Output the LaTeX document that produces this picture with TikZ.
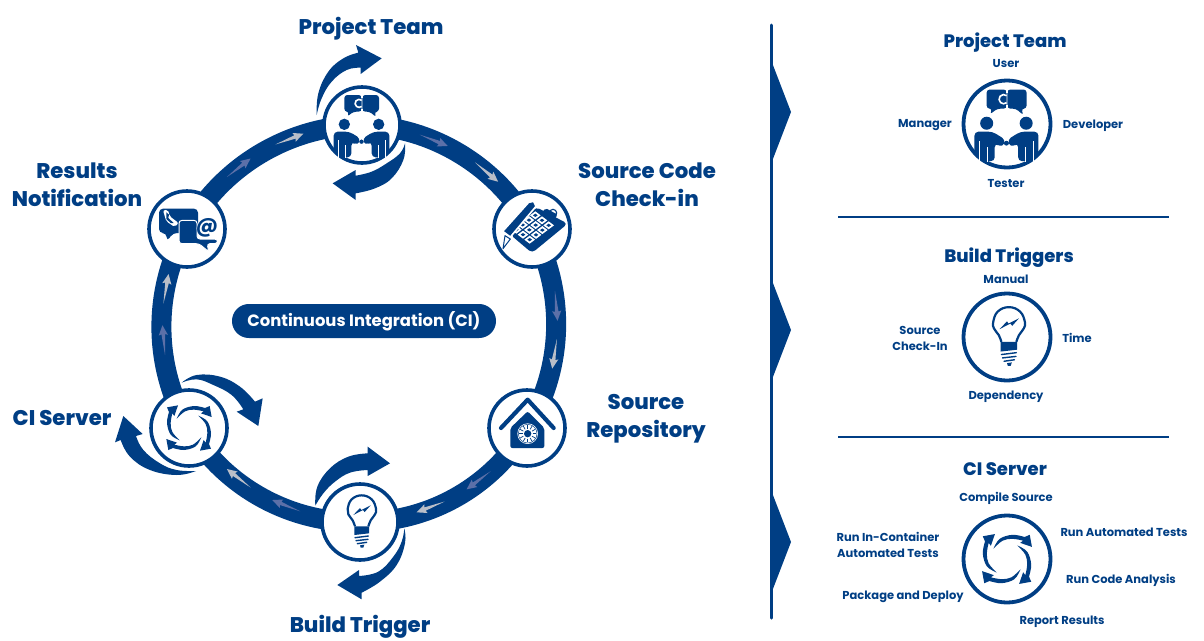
\documentclass[tikz,border=0pt]{standalone}
\usepackage{fontspec}
\setmainfont{Poppins}
\newfontfamily\heavyfont{Poppins ExtraBold}
\usetikzlibrary{backgrounds}
\definecolor{ciblue}{HTML}{003E84}
\definecolor{arrowgray}{HTML}{B9BEC8}
\definecolor{arrowmid}{HTML}{5C70A8}
\tikzset{
  x=1pt,y=-1pt,
  hub/.style={circle,draw=ciblue,fill=white,line width=3.6pt,minimum size=76pt,inner sep=0pt},
  hubbig/.style={hub,minimum size=87pt,line width=3.8pt},
  ringseg/.style={draw=ciblue,line width=20pt,bend left=30,looseness=.91},
  bigtitle/.style={text=ciblue,font=\heavyfont\fontsize{21.2}{28.5}\selectfont,align=center,inner sep=0pt},
  subtitle/.style={text=ciblue,font=\heavyfont\fontsize{18}{21}\selectfont,align=center,inner sep=0pt},
  item/.style={text=ciblue,font=\bfseries\fontsize{11.5}{15.5}\selectfont,align=center,inner sep=0pt},
  zoomed/.style={scale=1/3},
  peopleicon/.pic={
    \begin{scope}[scale=1/3]\begin{scope}[shift={(-215,-285)}]
      \fill[ciblue,rounded corners=3pt] (162,195) -- (214,195) -- (214,245) -- (190,245) -- (170,260) -- (177,245) -- (162,245) -- cycle;
      \fill[ciblue,rounded corners=3pt] (216,195) -- (266,195) -- (266,245) -- (252,245) -- (258,262) -- (238,245) -- (216,245) -- cycle;
      \draw[white,line width=1.6pt] (214,211) arc[start angle=-50,end angle=-310,radius=12];
      \draw[white,line width=1.1pt] (215,192) -- (215,204) (215,236) -- (215,250);
      \foreach \m in {0,1}{
        \begin{scope}[xscale={1-2*\m},shift={(-427*\m,0)}]
          \fill[ciblue] (162,283) circle[radius=17];
          \fill[ciblue,rounded corners=4pt] (130,372) -- (130,305) -- (177,305) -- (211,326) -- (203,346) -- (183,335) -- (183,382) -- (145,382) -- (145,372) -- cycle;
          \draw[white,line width=.9pt] (143,330) -- (143,385);
          \draw[white,line width=.9pt] (164,345) -- (164,385);
          \fill[ciblue] (213,335) circle[radius=6];
        \end{scope}
      }
    \end{scope}\end{scope}
  },
  calicon/.pic={
    \begin{scope}[scale=1/3]\begin{scope}[shift={(-185,-148)}]
      \fill[ciblue,rounded corners=4pt] (197,82) -- (292,132) -- (185,220) -- (120,165) -- cycle;
      \draw[ciblue,fill=white,line width=1.1pt] (248,100) circle[radius=11];
      \fill[ciblue,rounded corners=2pt] (225,85) -- (262,105) -- (250,122) -- (215,100) -- cycle;
      \foreach \i in {0,1,2}{\foreach \j in {0,1,2,3}{
        \pgfmathsetmacro\px{195+20*\i-19*\j}
        \pgfmathsetmacro\py{107+15*\i+14.3*\j}
        \fill[white] (\px-16,\py) -- (\px,\py-12) -- (\px+16,\py) -- (\px,\py+12) -- cycle;
        \fill[ciblue] (\px-7,\py) -- (\px,\py-5) -- (\px+7,\py) -- (\px,\py+5) -- cycle;
      }}
      \draw[white,line join=round,line width=1.6pt,fill=ciblue] (97,155) -- (175,68) -- (190,65) -- (197,80) -- (120,172) -- cycle;
      \draw[ciblue,fill=white,line width=1pt,line join=round] (104,168) -- (120,178) -- (98,207) -- cycle;
    \end{scope}\end{scope}
  },
  repoicon/.pic={
    \begin{scope}[scale=1/3]\begin{scope}[shift={(-170,-745)}]
      \draw[ciblue,line width=4.2pt,line cap=round,line join=round] (92,745) -- (172,660) -- (250,745);
      \fill[ciblue,rounded corners=2pt] (120,745) -- (172,695) -- (222,745) -- (222,805) -- (120,805) -- cycle;
      \fill[white] (172,762) circle[radius=31];
      \foreach \a in {0,30,...,330}{\draw[ciblue,line width=.7pt] (172,762) ++(\a:15) -- ++(\a:11);}
      \draw[ciblue,line width=.5pt] (172,762) circle[radius=28];
      \fill[ciblue] (172,762) circle[radius=11];
    \end{scope}\end{scope}
  },
  bulbicon/.pic={
    \begin{scope}[scale=1/3]\begin{scope}[shift={(-180,-245)}]
      \draw[ciblue,line width=2.2pt,line join=round] plot[smooth,tension=.7] coordinates {(165,258) (158,240) (145,222) (143,205) (155,177) (185,165) (215,177) (228,205) (225,222) (212,240) (205,258)};
      \fill[ciblue] (163,258) -- (207,258) -- (207,279) -- (163,284) -- cycle;
      \draw[ciblue,line width=1.4pt,line cap=round] (165,292) -- (205,287) (168,301) -- (204,297) (172,310) -- (200,306);
      \fill[ciblue] (180,315) -- (193,313) -- (190,322) -- (182,322) -- cycle;
      \fill[ciblue] (160,224) -- (180,203) -- (184,209) -- (212,195) -- (194,215) -- (189,209) -- cycle;
    \end{scope}\end{scope}
  },
  mailicon/.pic={
    \begin{scope}[scale=1/3]\begin{scope}[shift={(-232,-178)}]
      \fill[ciblue,rounded corners=4pt] (148,117) -- (265,117) -- (265,190) -- (190,190) -- (172,215) -- (170,190) -- (148,190) -- cycle;
      \draw[white,line width=1pt,fill=ciblue,rounded corners=3pt] (208,152) -- (262,152) -- (262,208) -- (324,208) -- (324,222) -- (292,222) -- (298,247) -- (268,222) -- (208,222) -- cycle;
      \fill[white] (292,176) circle[radius=31];
      \fill[white,rounded corners=2pt] (160,122) -- (175,120) -- (180,140) -- (207,160) -- (195,172) -- (170,155) -- cycle;
      \fill[ciblue] (170,128) -- (178,135) -- (176,145) -- (192,160) -- (183,160) -- (170,148) -- cycle;
      \node[text=ciblue,font=\bfseries\fontsize{21}{21}\selectfont,inner sep=0pt] at (292,174) {@};
    \end{scope}\end{scope}
  },
  cycleicon/.pic={
    \begin{scope}[scale=1/3]
      \foreach \r in {0,90,180,270}{
        \begin{scope}[rotate=\r]
          \fill[ciblue] plot[smooth,tension=.6] coordinates {(-37,-28) (-20,-55) (15,-66) (48,-60)} -- (62,-66) -- (68,-33) -- (36,-44) -- (44,-50) -- plot[smooth,tension=.6] coordinates {(44,-50) (15,-55) (-12,-50) (-37,-28)} -- cycle;
        \end{scope}
      }
    \end{scope}
  }
}
\begin{document}
\begin{tikzpicture}
\useasboundingbox (0,0) rectangle (1204,640);
% hubs
\node[hub] (pt) at (362,125) {};
\node[hub] (sc) at (532,229) {};
\node[hub] (sr) at (527,428) {};
\node[hub] (bt) at (360,522) {};
\node[hub] (cs) at (189,428) {};
\node[hub] (rn) at (187,229) {};
\begin{pgfonlayer}{background}
  \draw[ringseg] (pt.center) to (sc.center);
  \draw[ringseg] (sc.center) to (sr.center);
  \draw[ringseg] (sr.center) to (bt.center);
  \draw[ringseg] (bt.center) to (cs.center);
  \draw[ringseg] (cs.center) to (rn.center);
  \draw[ringseg] (rn.center) to (pt.center);
\end{pgfonlayer}
% small arrows on the ring
\foreach \t/\c in {68/arrowmid,50/arrowgray,5/arrowmid,-9/arrowgray,-53/arrowmid,-69/arrowgray,-112/arrowmid,-128/arrowgray,185/arrowmid,170/arrowgray,128/arrowmid,111/arrowgray}{
  \begin{scope}[shift={({360+197*cos(\t)},{323-197*sin(\t)})},rotate={\t-90}]
    \fill[\c] (-15,0) -- (6,-1.8) -- (5,-4.6) -- (15,0) -- (5,4.6) -- (6,1.8) -- cycle;
  \end{scope}
}
% swooshes: project team
\begin{scope}[shift={(290,30)}]\begin{scope}[zoomed]
  \fill[ciblue] plot[smooth,tension=.7] coordinates {(80,255) (85,190) (115,125) (160,85) (205,68)} -- (198,45) -- (275,85) -- (212,132) -- (212,113) -- plot[smooth,tension=.7] coordinates {(212,113) (170,120) (125,155) (95,205) (80,255)} -- cycle;
  \fill[ciblue] plot[smooth,tension=.7] coordinates {(345,340) (340,390) (305,445) (255,475) (197,490)} -- (197,510) -- (128,460) -- (197,420) -- (197,437) -- plot[smooth,tension=.7] coordinates {(197,437) (245,425) (290,400) (330,370) (345,340)} -- cycle;
\end{scope}\end{scope}
% swooshes: build trigger
\begin{scope}[shift={(300,440)}]\begin{scope}[zoomed]
  \fill[ciblue] plot[smooth,tension=.7] coordinates {(46,197) (52,140) (90,85) (145,50) (203,40)} -- (203,20) -- (270,70) -- (203,108) -- (203,90) -- plot[smooth,tension=.7] coordinates {(203,90) (150,98) (105,125) (70,160) (46,197)} -- cycle;
  \fill[ciblue] plot[smooth,tension=.7] coordinates {(313,265) (315,310) (290,375) (240,425) (185,458)} -- (185,478) -- (112,435) -- (177,390) -- (177,408) -- plot[smooth,tension=.7] coordinates {(177,408) (235,395) (280,350) (305,305) (313,265)} -- cycle;
\end{scope}\end{scope}
% swooshes: CI server
\begin{scope}[shift={(100,360)}]\begin{scope}[zoomed]
  \fill[ciblue] plot[smooth,tension=.7] coordinates {(245,68) (290,45) (360,50) (420,80) (465,125)} -- (488,115) -- (475,198) -- (410,155) -- (430,148) -- plot[smooth,tension=.7] coordinates {(430,148) (395,105) (340,75) (290,58) (245,68)} -- cycle;
  \fill[ciblue] plot[smooth,tension=.7] coordinates {(288,333) (230,345) (150,330) (90,290) (62,240)} -- (45,247) -- (70,168) -- (128,222) -- (108,228) -- plot[smooth,tension=.7] coordinates {(108,228) (130,270) (180,310) (230,330) (288,333)} -- cycle;
\end{scope}\end{scope}
% icons left
\pic at (pt) {peopleicon};
\pic at (sc) {calicon};
\pic at (sr) {repoicon};
\pic at (bt) {bulbicon};
\pic at (cs) {cycleicon};
\pic at (rn) {mailicon};
% left labels
\node[bigtitle] (l1) at (371,29) {Project Team};
\node[bigtitle] (l2) at (647,184.5) {Source Code\\Check-in};
\node[bigtitle] (l3) at (646,418.5) {Source\\Repository};
\node[bigtitle] (l4) at (360,627) {Build Trigger};
\node[bigtitle] (l5) at (62,418) {CI Server};
\node[bigtitle] (l6) at (77,184.5) {Results\\Notification};
\node[fill=ciblue,text=white,rounded corners=16.9pt,minimum width=264pt,minimum height=34pt,inner sep=0pt,font=\bfseries\fontsize{16.4}{18}\selectfont] (ci) at (364,321) {Continuous Integration (CI)};
% right side
\coordinate (vt) at (771,25);
\coordinate (vb) at (771,618);
\draw[ciblue,line width=3pt,line cap=round] (vt) -- (vb);
\foreach \c in {112,330,542}{
  \fill[ciblue] (771,\c-52) -- (791,\c) -- (771,\c+52) -- cycle;
}
\coordinate (h1a) at (838,217); \coordinate (h1b) at (1169,217);
\coordinate (h2a) at (838,437); \coordinate (h2b) at (1169,437);
\draw[ciblue,line width=2pt] (h1a) -- (h1b);
\draw[ciblue,line width=2pt] (h2a) -- (h2b);
\node[hubbig] (rpt) at (1007,124) {};
\node[hubbig] (rbt) at (1007,337) {};
\node[hubbig] (rcs) at (1007,559) {};
\pic[scale=1.15] at (rpt) {peopleicon};
\pic[scale=1.12] at (rbt) {bulbicon};
\pic[scale=1.1] at (rcs) {cycleicon};
\node[subtitle] (t1) at (1005,43) {Project Team};
\node[item] (a1) at (1006,64) {User};
\node[item] (a2) at (925,125.5) {Manager};
\node[item] (a3) at (1093,125.5) {Developer};
\node[item] (a4) at (1006,184) {Tester};
\node[subtitle] (t2) at (1009,258) {Build Triggers};
\node[item] (b1) at (1006,279) {Manual};
\node[item] (b2) at (920,338.5) {Source\\Check-In};
\node[item] (b3) at (1077,337.5) {Time};
\node[item] (b4) at (1006,396.5) {Dependency};
\node[subtitle] (t3) at (1005,469.5) {CI Server};
\node[item] (c1) at (1006,498.5) {Compile Source};
\node[item] (c2) at (1124,532) {Run Automated Tests};
\node[item] (c3) at (888,545) {Run In-Container\\Automated Tests};
\node[item] (c4) at (1121,580) {Run Code Analysis};
\node[item] (c5) at (903,597) {Package and Deploy};
\node[item] (c6) at (1062,622) {Report Results};
\end{tikzpicture}
\end{document}
